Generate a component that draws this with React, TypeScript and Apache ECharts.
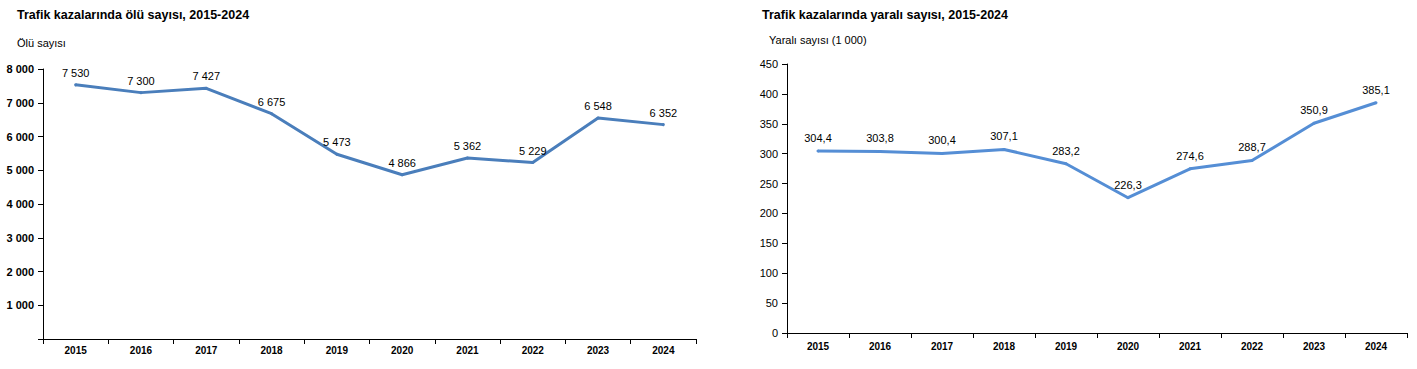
import React, { useEffect, useRef } from "react";
import * as echarts from "echarts";

const years = ["2015", "2016", "2017", "2018", "2019", "2020", "2021", "2022", "2023", "2024"];
const deaths = [7530, 7300, 7427, 6675, 5473, 4866, 5362, 5229, 6548, 6352];
const injured = [304.4, 303.8, 300.4, 307.1, 283.2, 226.3, 274.6, 288.7, 350.9, 385.1];

const leftTitle = "Trafik kazalarında ölü sayısı, 2015-2024";
const leftUnit = "Ölü sayısı";
const rightTitle = "Trafik kazalarında yaralı sayısı, 2015-2024";
const rightUnit = "Yaralı sayısı (1 000)";

const FONT = "Liberation Sans, Arial, sans-serif";

const thousands = (v: number) => String(Math.round(v)).replace(/\B(?=(\d{3})+(?!\d))/g, " ");
const decimalComma = (v: number) => v.toFixed(1).replace(".", ",");

export default function App() {
  const ref = useRef<HTMLDivElement>(null);
  useEffect(() => {
    const chart = echarts.init(ref.current!, null, { renderer: "svg" });
    const axisLine = { show: true, lineStyle: { color: "#000", width: 1 } };
    const axisTick = { show: true, length: 5, lineStyle: { color: "#000", width: 1 } };
    chart.setOption({
      animation: false,
      backgroundColor: "#fff",
      title: [
        { text: leftTitle, left: 17, top: 8, padding: 0, textStyle: { fontFamily: FONT, fontSize: 12.5, fontWeight: "bold", color: "#000" } },
        { text: leftUnit, left: 17, top: 37, padding: 0, textStyle: { fontFamily: FONT, fontSize: 11, fontWeight: "normal", color: "#000" } },
        { text: rightTitle, left: 762, top: 8, padding: 0, textStyle: { fontFamily: FONT, fontSize: 12.5, fontWeight: "bold", color: "#000" } },
        { text: rightUnit, left: 769, top: 34, padding: 0, textStyle: { fontFamily: FONT, fontSize: 11, fontWeight: "normal", color: "#000" } },
      ],
      grid: [
        { left: 43, top: 69, width: 653, height: 270, containLabel: false },
        { left: 787, top: 64, width: 620, height: 269, containLabel: false },
      ],
      xAxis: [
        {
          type: "category", gridIndex: 0, data: years, boundaryGap: true,
          axisLine, axisTick: { ...axisTick, interval: 0 },
          axisLabel: { fontFamily: FONT, fontSize: 10, fontWeight: "bold", color: "#000", margin: 6, interval: 0 },
          splitLine: { show: false },
        },
        {
          type: "category", gridIndex: 1, data: years, boundaryGap: true,
          axisLine, axisTick: { ...axisTick, interval: 0 },
          axisLabel: { fontFamily: FONT, fontSize: 10, fontWeight: "bold", color: "#000", margin: 8, interval: 0 },
          splitLine: { show: false },
        },
      ],
      yAxis: [
        {
          type: "value", gridIndex: 0, min: 0, max: 8000, interval: 1000,
          axisLine, axisTick,
          axisLabel: {
            fontFamily: FONT, fontSize: 11, fontWeight: "bold", color: "#000", margin: 9,
            formatter: (v: number) => (v === 0 ? "" : thousands(v)),
          },
          splitLine: { show: false },
        },
        {
          type: "value", gridIndex: 1, min: 0, max: 450, interval: 50,
          axisLine, axisTick,
          axisLabel: { fontFamily: FONT, fontSize: 11, color: "#000", margin: 9 },
          splitLine: { show: false },
        },
      ],
      series: [
        {
          type: "line", xAxisIndex: 0, yAxisIndex: 0, data: deaths,
          symbol: "circle", symbolSize: 3, showSymbol: true,
          itemStyle: { color: "#4A7EBB" },
          lineStyle: { color: "#4A7EBB", width: 3 },
          label: {
            show: true, position: "top", distance: 5, fontFamily: FONT, fontSize: 11, color: "#000",
            formatter: (p: any) => thousands(p.value),
          },
        },
        {
          type: "line", xAxisIndex: 1, yAxisIndex: 1, data: injured,
          symbol: "circle", symbolSize: 3, showSymbol: true,
          itemStyle: { color: "#558ED5" },
          lineStyle: { color: "#558ED5", width: 3 },
          label: {
            show: true, position: "top", distance: 6, fontFamily: FONT, fontSize: 11, color: "#000",
            formatter: (p: any) => decimalComma(p.value),
          },
        },
      ],
    });
    return () => chart.dispose();
  }, []);
  return <div ref={ref} style={{ position: "fixed", left: 0, top: 0, width: 1417, height: 369 }} />;
}
